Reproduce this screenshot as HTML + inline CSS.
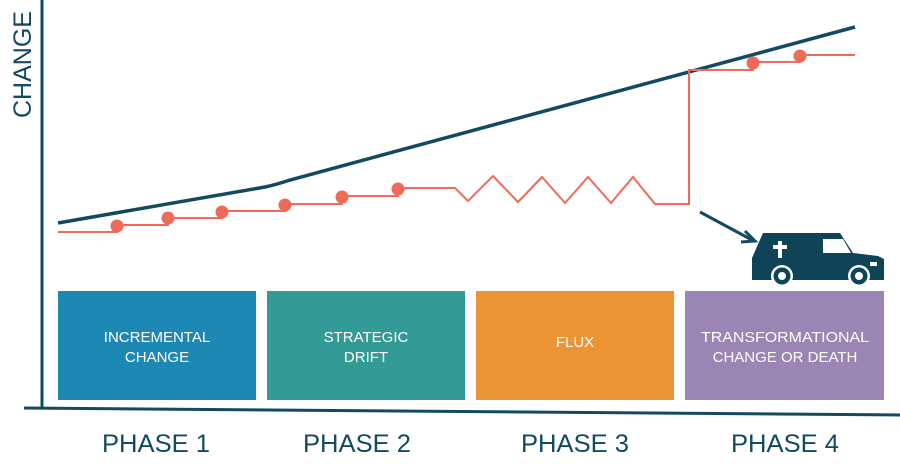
<!DOCTYPE html>
<html><head><meta charset="utf-8"><style>
html,body{margin:0;padding:0;background:#fff;width:900px;height:472px;overflow:hidden}
svg{display:block}
</style></head><body>
<svg width="900" height="472" viewBox="0 0 900 472" xmlns="http://www.w3.org/2000/svg" font-family="Liberation Sans, sans-serif">
<line x1="42" y1="0" x2="42" y2="409" stroke="#124a60" stroke-width="3"/>
<line x1="24" y1="408" x2="900" y2="415" stroke="#124a60" stroke-width="3"/>
<text transform="translate(31,118) rotate(-90)" font-size="25" fill="#124a60">CHANGE</text>
<path d="M58,223 L265,187 Q275,185 290,180 L855,27" fill="none" stroke="#124a60" stroke-width="3.5"/>
<path d="M58,232 H117 V225 H168 V218 H222 V211 H285 V204 H342 V196 H398 V188 H455 L468,201 L493,176 L518,202 L542,177 L565,203 L588,177 L611,203 L633,177 L655,204 H689 V70 H753 V62 H800 V55 H855" fill="none" stroke="#ee6b59" stroke-width="2"/>
<g fill="#ee6b59">
<circle cx="117" cy="226" r="6.5"/><circle cx="168" cy="218" r="6.5"/><circle cx="222" cy="212" r="6.5"/>
<circle cx="285" cy="205" r="6.5"/><circle cx="342" cy="197" r="6.5"/><circle cx="398" cy="189" r="6.5"/>
<circle cx="753" cy="63" r="6.5"/><circle cx="800" cy="56" r="6.5"/>
</g>
<line x1="700" y1="212" x2="752" y2="240" stroke="#124a60" stroke-width="3"/>
<path d="M745,231 L755,241 L741,242" fill="none" stroke="#124a60" stroke-width="3"/>
<path d="M763,233 H840 L853,253 L878,256 L884,259 V280 H752 V258 Z" fill="#0e4358"/>
<path d="M823,239 H843 L851,253 H823 Z" fill="#fff"/>
<rect x="870" y="262" width="7" height="4" fill="#fff"/>
<rect x="778" y="241" width="4" height="17" fill="#fff"/><rect x="773" y="245" width="14" height="4" fill="#fff"/>
<circle cx="782" cy="276" r="11" fill="#fff"/><circle cx="782" cy="276" r="8.5" fill="#0e4358"/><circle cx="782" cy="276" r="4" fill="#fff"/>
<circle cx="859" cy="276" r="11" fill="#fff"/><circle cx="859" cy="276" r="8.5" fill="#0e4358"/><circle cx="859" cy="276" r="4" fill="#fff"/>
<rect x="58" y="291" width="198" height="109" fill="#1e88b5"/>
<rect x="267" y="291" width="198" height="109" fill="#339a96"/>
<rect x="476" y="291" width="198" height="109" fill="#ec9435"/>
<rect x="685" y="291" width="199" height="109" fill="#9a85b5"/>
<g fill="#fff" font-size="15" text-anchor="middle">
<text x="157" y="342">INCREMENTAL</text><text x="157" y="362">CHANGE</text>
<text x="366" y="342">STRATEGIC</text><text x="366" y="362">DRIFT</text>
<text x="575" y="347">FLUX</text>
<text x="785" y="342" textLength="168" lengthAdjust="spacingAndGlyphs">TRANSFORMATIONAL</text><text x="785" y="362">CHANGE OR DEATH</text>
</g>
<g fill="#124a60" font-size="25" text-anchor="middle">
<text x="156" y="452" textLength="108" lengthAdjust="spacingAndGlyphs">PHASE 1</text>
<text x="357" y="452" textLength="108" lengthAdjust="spacingAndGlyphs">PHASE 2</text>
<text x="575" y="452" textLength="108" lengthAdjust="spacingAndGlyphs">PHASE 3</text>
<text x="785" y="452" textLength="108" lengthAdjust="spacingAndGlyphs">PHASE 4</text>
</g>
</svg>
</body></html>
